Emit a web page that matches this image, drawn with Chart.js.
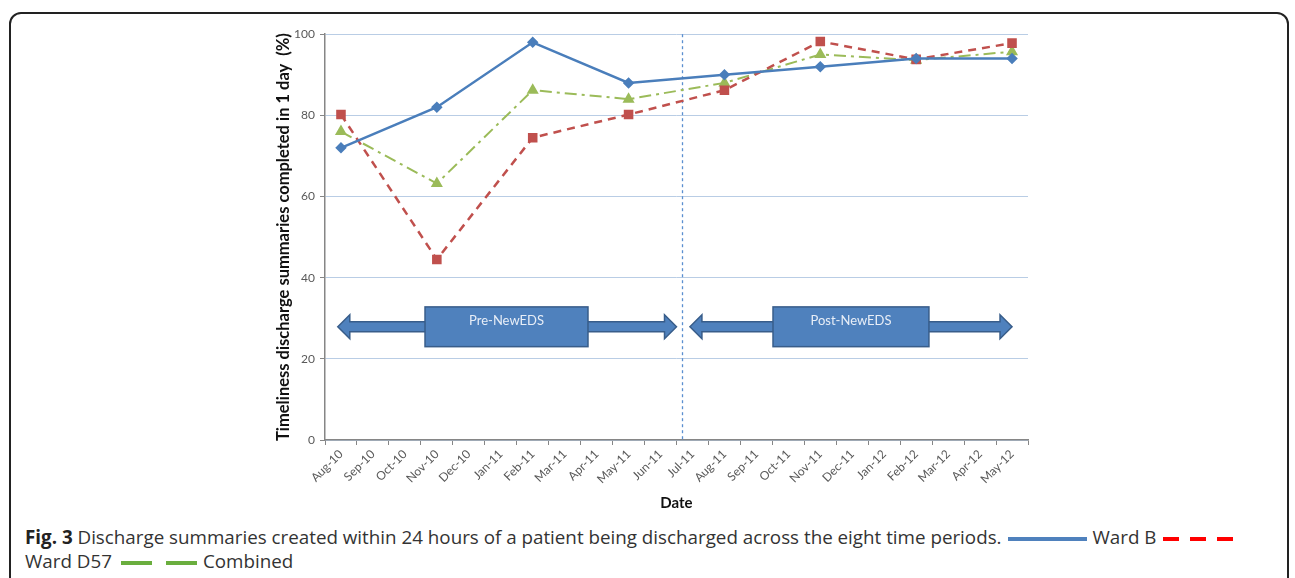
<!DOCTYPE html>
<html>
<head>
<meta charset="utf-8">
<script src="https://cdn.jsdelivr.net/npm/chart.js@4.4.1/dist/chart.umd.min.js"></script>
<style>
body { margin:0; background:#fff; width:1295px; height:578px; overflow:hidden; position:relative; font-family:"Open Sans", sans-serif; }
#frame { position:absolute; left:9px; top:12px; width:1280px; height:600px; border:2px solid #222; border-radius:12px; box-sizing:border-box; }
#wrap { position:absolute; left:262px; top:22px; width:780px; height:500px; }
#caption { position:absolute; left:25px; top:525px; font-size:18.8px; line-height:24px; color:#333; white-space:nowrap; }
#caption b { color:#222; }
.sw { display:inline-block; vertical-align:middle; height:4px; margin:0 6px; }
</style>
</head>
<body>
<div id="frame"></div>
<div id="wrap"><canvas id="myChart"></canvas></div>
<div id="caption"><b>Fig. 3</b> Discharge summaries created within 24 hours of a patient being discharged across the eight time periods.<span class="sw" style="width:79px;background:#4f81bd"></span>Ward B<span class="sw" style="width:70px;background:repeating-linear-gradient(90deg,#f00 0 16px,transparent 16px 27px)"></span><br>Ward D57<span class="sw" style="width:76px;margin-left:9px;background:repeating-linear-gradient(90deg,#6aae3e 0 31px,transparent 31px 45px)"></span>Combined</div>
<script>
// months along the x axis
var months = ["Aug-10","Sep-10","Oct-10","Nov-10","Dec-10","Jan-11","Feb-11","Mar-11","Apr-11","May-11","Jun-11",
              "Jul-11","Aug-11","Sep-11","Oct-11","Nov-11","Dec-11","Jan-12","Feb-12","Mar-12","Apr-12","May-12"];
// one value every 3 months, gaps in between
var wardB    = [72,null,null,82,null,null,98,null,null,88,null,null,90,null,null,92,null,null,94,null,null,94];
var wardD57  = [80.2,null,null,44.5,null,null,74.5,null,null,80.2,null,null,86.2,null,null,98.2,null,null,93.8,null,null,97.8];
var combined = [76,null,null,63.2,null,null,86.2,null,null,84,null,null,88,null,null,95,null,null,93.6,null,null,95.7];
var yTicks = [0,20,40,60,80,100];

// period markers (x in category index units, y in %)
var dividerAt = 10.68;
var periods = [
    {label:"Pre-NewEDS",  from:-0.1,  to:10.5, boxFrom:2.63,  boxTo:7.73},
    {label:"Post-NewEDS", from:10.92, to:21,   boxFrom:13.52, boxTo:18.4}
];

function xAt(scale, v)
{
    var a = scale.getPixelForValue(0), b = scale.getPixelForValue(1);
    return a + (b - a) * v;
}

var periodPlugin = {
    id: "periods",
    beforeDatasetsDraw: function(chart)
    {
        var ctx = chart.ctx, xs = chart.scales.x, ys = chart.scales.y;
        var area = chart.chartArea;
        // dashed divider
        ctx.save();
        ctx.strokeStyle = "#5b8fd0";
        ctx.lineWidth = 1.3;
        ctx.setLineDash([3,3]);
        var dx = Math.round(xAt(xs, dividerAt)) + 0.5;
        ctx.beginPath();
        ctx.moveTo(dx, area.top);
        ctx.lineTo(dx, area.bottom + 1);
        ctx.stroke();
        ctx.restore();

        // double arrows with box
        var cy = ys.getPixelForValue(27.9);
        var boxTop = ys.getPixelForValue(32.8), boxBot = ys.getPixelForValue(23);
        periods.forEach(function(p)
        {
            var l = xAt(xs, p.from), r = xAt(xs, p.to);
            var head = 12, hh = 12, sh = 5;
            ctx.save();
            ctx.fillStyle = "#4f81bd";
            ctx.strokeStyle = "#385d8a";
            ctx.lineWidth = 1.5;
            ctx.beginPath();
            ctx.moveTo(l, cy);
            ctx.lineTo(l + head, cy - hh);
            ctx.lineTo(l + head, cy - sh);
            ctx.lineTo(r - head, cy - sh);
            ctx.lineTo(r - head, cy - hh);
            ctx.lineTo(r, cy);
            ctx.lineTo(r - head, cy + hh);
            ctx.lineTo(r - head, cy + sh);
            ctx.lineTo(l + head, cy + sh);
            ctx.lineTo(l + head, cy + hh);
            ctx.closePath();
            ctx.fill();
            ctx.stroke();
            var bl = xAt(xs, p.boxFrom), br = xAt(xs, p.boxTo);
            ctx.fillRect(bl, boxTop, br - bl, boxBot - boxTop);
            ctx.strokeRect(bl, boxTop, br - bl, boxBot - boxTop);
            ctx.fillStyle = "#e8eef7";
            ctx.font = "13px Lato";
            ctx.textAlign = "center";
            ctx.textBaseline = "middle";
            ctx.fillText(p.label, (bl + br) / 2, boxTop + 14);
            ctx.restore();
        });
    }
};

var canvas = document.getElementById('myChart');
var myChart = new Chart(canvas.getContext('2d'),
{
    type: "line",
    data:
    {
        labels: months,
        datasets:
        [{
            label: "Ward B",
            data: wardB,
            borderColor: "#4a7ebb",
            backgroundColor: "#4a7ebb",
            borderWidth: 2.5,
            pointStyle: "rectRot",
            pointRadius: 4,
            spanGaps: true
        },
        {
            label: "Ward D57",
            data: wardD57,
            borderColor: "#c0504d",
            backgroundColor: "#c0504d",
            borderWidth: 2.5,
            borderDash: [8,6],
            pointStyle: "rect",
            pointRadius: 5,
            spanGaps: true
        },
        {
            label: "Combined",
            data: combined,
            borderColor: "#9bbb59",
            backgroundColor: "#9bbb59",
            borderWidth: 2,
            borderDash: [12,5,3,5],
            pointStyle: "triangle",
            pointRadius: 5,
            spanGaps: true
        }]
    },
    options:
    {
        animation: false,
        responsive: true,
        maintainAspectRatio: false,
        layout: {padding: {top: 8, right: 14, bottom: 10, left: 0}},
        plugins: {legend: {display: false}, tooltip: {enabled: false}},
        scales:
        {
            x:
            {
                offset: true,
                grid: {offset: true, drawOnChartArea: false, tickLength: 5, color: "#868686"},
                border: {color: "#868686", width: 1.5},
                ticks: {minRotation: 45, maxRotation: 45, color: "#595959", font: {family: "Lato", size: 12}, padding: 2, autoSkip: false},
                title: {display: true, text: "Date", color: "#111", font: {family: "Lato", size: 15, weight: "bold"}, padding: {top: 0, bottom: 0}},
                afterFit: function(s) { s.height = 72; }
            },
            y:
            {
                min: 0, max: 100,
                afterBuildTicks: function(s) { s.ticks = yTicks.map(function(v) { return {value: v}; }); },
                grid: {color: "#b9cde5", tickColor: "#868686", tickLength: 5},
                border: {color: "#868686", width: 1.5},
                ticks: {color: "#595959", font: {family: "Lato", size: 12}, padding: 5},
                title: {display: true, text: "Timeliness discharge summaries completed in 1 day  (%)", color: "#111", font: {family: "Lato", size: 16.5, weight: "bold"}, padding: {top: 12, bottom: 0}},
                afterFit: function(s) { s.width = 63; }
            }
        }
    },
    plugins: [periodPlugin]
});
</script>
</body>
</html>
